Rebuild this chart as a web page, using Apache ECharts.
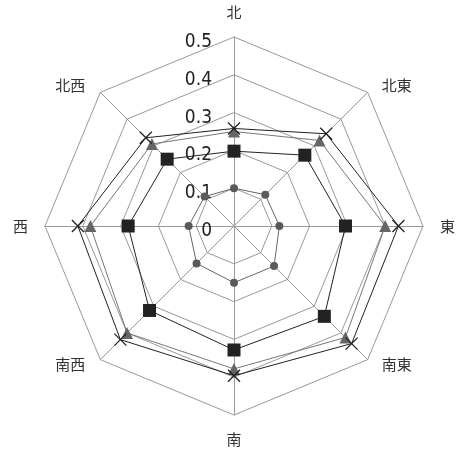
<!DOCTYPE html>
<html><head><meta charset="utf-8">
<script src="https://cdn.jsdelivr.net/npm/echarts@6/dist/echarts.min.js"></script>
<style>html,body{margin:0;padding:0;background:#fff}#c{width:459px;height:457px}</style>
</head><body><div id="c"></div>
<script>
// Directions, listed counter-clockwise from the top (ECharts radar order)
const directions = ['北', '北西', '西', '南西', '南', '南東', '東', '北東'];
const tickLabels = ['0', '0.1', '0.2', '0.3', '0.4', '0.5'];
const maxValue = 0.5;
// values in the same order as directions
const circleSeries   = [0.10, 0.11, 0.12, 0.14, 0.15, 0.15, 0.12, 0.117];
const squareSeries   = [0.198, 0.25, 0.28, 0.316, 0.328, 0.338, 0.295, 0.265];
const triangleSeries = [0.25, 0.307, 0.38, 0.40, 0.378, 0.417, 0.40, 0.32];
const crossSeries    = [0.258, 0.33, 0.413, 0.425, 0.396, 0.44, 0.435, 0.345];

const center = [234, 226];
const radius = 189;
const nameStyleKey = { '北西': 'nw', '北東': 'ne', '南西': 'sw', '南東': 'se' };
const chart = echarts.init(document.getElementById('c'));
const cjk = '"Noto Sans CJK JP", sans-serif';
const tickFont = '"Liberation Sans Narrow", "DejaVu Sans Condensed", sans-serif';
chart.setOption({
  animation: false,
  backgroundColor: '#fff',
  radar: {
    center: center, radius: radius, startAngle: 90, splitNumber: 5, shape: 'polygon',
    indicator: directions.map(d => ({ name: d, max: maxValue, min: 0 })),
    axisName: {
      color: '#333', fontSize: 15, fontFamily: cjk,
      formatter: (name) => nameStyleKey[name] ? '{' + nameStyleKey[name] + '|' + name + '}' : '{n|' + name + '}',
      rich: {
        n:  { fontSize: 15, fontFamily: cjk, color: '#333' },
        ne: { fontSize: 15, fontFamily: cjk, color: '#333', padding: [9, 0, 0, 2] },
        nw: { fontSize: 15, fontFamily: cjk, color: '#333', padding: [9, 3, 0, 0] },
        se: { fontSize: 15, fontFamily: cjk, color: '#333', padding: [0, 0, 15, 2] },
        sw: { fontSize: 15, fontFamily: cjk, color: '#333', padding: [0, 3, 15, 0] }
      }
    },
    nameGap: 17,
    axisLine: { lineStyle: { color: '#999', width: 1 } },
    splitLine: { lineStyle: { color: '#999', width: 1 } },
    splitArea: { show: false },
    axisTick: { show: false },
    axisLabel: { show: false }
  },
  polar: { center: center, radius: radius },
  angleAxis: { show: false, startAngle: 90, min: 0, max: 360 },
  radiusAxis: {
    min: 0, max: maxValue, interval: 0.1,
    axisLine: { show: false }, axisTick: { show: false }, splitLine: { show: false },
    axisLabel: {
      show: true, margin: 22,
      formatter: (v) => { const i = Math.round(v * 10); return '{t|' + tickLabels[i] + '}'; },
      rich: { t: { color: '#222', fontSize: 19, fontFamily: tickFont, padding: [10, 0, 0, 0] } }
    }
  },
  series: [
    { type: 'radar', z: 3, symbol: 'circle', symbolSize: 8,
      itemStyle: { color: '#5a5a5a' }, lineStyle: { color: '#666', width: 1 },
      data: [{ value: circleSeries }] },
    { type: 'radar', z: 4, symbol: 'rect', symbolSize: 13,
      itemStyle: { color: '#222' }, lineStyle: { color: '#222', width: 1 },
      data: [{ value: squareSeries }] },
    { type: 'radar', z: 3, symbol: 'triangle', symbolSize: 12,
      itemStyle: { color: '#666' }, lineStyle: { color: '#777', width: 1 },
      data: [{ value: triangleSeries }] },
    { type: 'radar', z: 4, symbol: 'path://M0,0L10,10M10,0L0,10', symbolSize: 12,
      itemStyle: { color: 'none', borderColor: '#222', borderWidth: 1.3 },
      lineStyle: { color: '#222', width: 1 },
      data: [{ value: crossSeries }] }
  ]
});
</script></body></html>
